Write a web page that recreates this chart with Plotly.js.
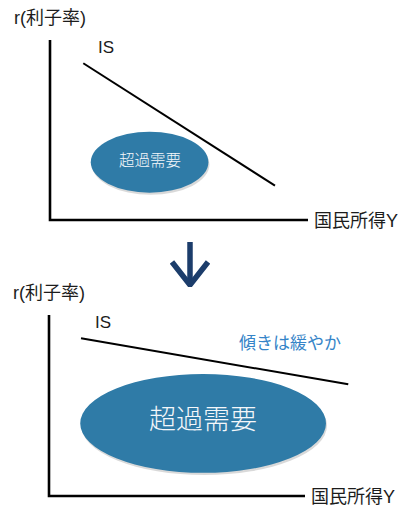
<!DOCTYPE html>
<html>
<head>
<meta charset="utf-8">
<script src="https://cdn.plot.ly/plotly-3.0.1.min.js"></script>
<style>
    html, body { margin: 0; padding: 0; background: #fff; }
    #chart { width: 414px; height: 515px; }
</style>
</head>
<body>
<div id="chart"></div>
<script>
/* ═══════════════════════════════════════════
   IS CURVE: steep vs flat (excess demand region)
   ═══════════════════════════════════════════ */

// Axis frame (same for both panels): y-axis top -> origin -> x-axis end
const frameX = [0, 0, 10];
const frameY = [10, 0, 0];

// IS line end points per panel [top, bottom]
const isX = [[1.29, 8.72], [1.25, 11.69]];
const isY = [[8.71, 1.91], [8.71, 6.17]];

// Excess demand region (ellipse) per panel
const regionCx = [3.86, 6.02];
const regionCy = [3.21, 4.01];
const regionRx = [2.28, 4.80];
const regionRy = [1.69, 2.73];

// Down arrow between the panels (stem, then the V)
const arrowX = [0, 0, null, -18, 0, 18];
const arrowY = [45, 3, null, 25, 2, 25];

// Text labels
const regionLabel = '超過需要';
const isLabel = 'IS';
const yTitle = 'r(利子率)';
const xTitle = '国民所得Y';
const slopeNote = '傾きは緩やか';

const W = 414, H = 515;
const LATIN = 'Liberation Sans, Noto Sans CJK JP, sans-serif';
const CJK = 'Noto Sans CJK JP, sans-serif';
const INK = '#1c1c1c';
const FILL = '#2f7ba7';

// panel geometry in pixels: origin (ox, oy) and size of one unit
const panels = [
    { ox: 50, oy: 220, ux: 25.8, uy: 18.0 },
    { ox: 49, oy: 496, ux: 25.6, uy: 18.1 },
];
const XR = [-0.3, 12.2], YR = [-0.3, 10.4];

function domainOf(p) {
    return {
        x: [(p.ox + XR[0] * p.ux) / W, (p.ox + XR[1] * p.ux) / W],
        y: [(H - (p.oy - YR[0] * p.uy)) / H, (H - (p.oy - YR[1] * p.uy)) / H],
    };
}

function hiddenAxis(range, domain, anchor) {
    return {
        range: range, domain: domain, anchor: anchor,
        showgrid: false, zeroline: false, showline: false,
        showticklabels: false, ticks: '', fixedrange: true,
    };
}

const traces = [];
const shapes = [];
const annotations = [];
const layout = {
    width: W, height: H,
    margin: { l: 0, r: 0, t: 0, b: 0 },
    paper_bgcolor: '#fff', plot_bgcolor: 'rgba(0,0,0,0)',
    showlegend: false,
    font: { family: LATIN, color: INK },
};

panels.forEach((p, i) => {
    const n = i === 0 ? '' : String(i + 1);
    const xa = 'x' + n, ya = 'y' + n;
    const d = domainOf(p);
    layout['xaxis' + n] = hiddenAxis(XR, d.x, ya);
    layout['yaxis' + n] = hiddenAxis(YR, d.y, xa);

    // shadow + ellipse
    const sx = 0.04, sy = 0.12;
    shapes.push({
        type: 'circle', xref: xa, yref: ya, layer: 'below',
        x0: regionCx[i] - regionRx[i] + sx, x1: regionCx[i] + regionRx[i] + sx,
        y0: regionCy[i] - regionRy[i] - sy, y1: regionCy[i] + regionRy[i] - sy,
        fillcolor: 'rgba(0,0,0,0.15)', line: { width: 0 },
    });
    shapes.push({
        type: 'circle', xref: xa, yref: ya, layer: 'below',
        x0: regionCx[i] - regionRx[i], x1: regionCx[i] + regionRx[i],
        y0: regionCy[i] - regionRy[i], y1: regionCy[i] + regionRy[i],
        fillcolor: FILL, line: { width: 0 },
    });

    // axes frame
    traces.push({
        x: frameX, y: frameY, xaxis: xa, yaxis: ya,
        type: 'scatter', mode: 'lines', hoverinfo: 'skip',
        line: { color: '#000', width: 2.6 },
    });

    // IS line
    traces.push({
        x: isX[i], y: isY[i], xaxis: xa, yaxis: ya,
        type: 'scatter', mode: 'lines', hoverinfo: 'skip',
        line: { color: '#000', width: 2 },
    });

    // IS label just above-left of the line start
    annotations.push({
        xref: xa, yref: ya, x: isX[i][0] + 0.48, y: 9.61,
        text: isLabel, showarrow: false, xanchor: 'left', yanchor: 'middle',
        font: { size: 17, family: LATIN, color: INK },
    });

    // label in region
    annotations.push({
        xref: xa, yref: ya, x: regionCx[i], y: regionCy[i] + (i === 0 ? 0.18 : 0.3),
        text: regionLabel, showarrow: false, xanchor: 'center', yanchor: 'middle',
        font: { size: i === 0 ? 15.5 : 27, family: CJK, color: '#f4f7fa', weight: 300 },
    });

    // axis titles (outside the frame)
    annotations.push({
        xref: 'paper', yref: 'paper', x: (p.ox - 38) / W, y: (H - (p.oy - 11.2 * p.uy)) / H,
        text: yTitle, showarrow: false, xanchor: 'left', yanchor: 'middle',
        font: { size: 18, family: LATIN, color: INK },
    });
    annotations.push({
        xref: 'paper', yref: 'paper', x: (p.ox + 10 * p.ux + 4) / W, y: (H - p.oy - 1) / H,
        text: xTitle, showarrow: false, xanchor: 'left', yanchor: 'middle',
        font: { size: 18, family: LATIN, color: INK },
    });
});

// note on the flat IS
annotations.push({
    xref: 'x2', yref: 'y2', x: 9.41, y: 8.51,
    text: slopeNote, showarrow: false, xanchor: 'center', yanchor: 'middle',
    font: { size: 17, family: CJK, color: '#3584c8' },
});

// down arrow between panels: its own small axes, 1 unit = 1 px
layout.xaxis3 = hiddenAxis([-20, 20], [170 / W, 210 / W], 'y3');
layout.yaxis3 = hiddenAxis([0, 47], [(H - 287) / H, (H - 240) / H], 'x3');
traces.push({
    x: arrowX, y: arrowY, xaxis: 'x3', yaxis: 'y3',
    type: 'scatter', mode: 'lines', hoverinfo: 'skip',
    line: { color: '#1c3d6b', width: 5.5 },
});

layout.shapes = shapes;
layout.annotations = annotations;

Plotly.newPlot('chart', traces, layout, { staticPlot: true, displayModeBar: false });
</script>
</body>
</html>
